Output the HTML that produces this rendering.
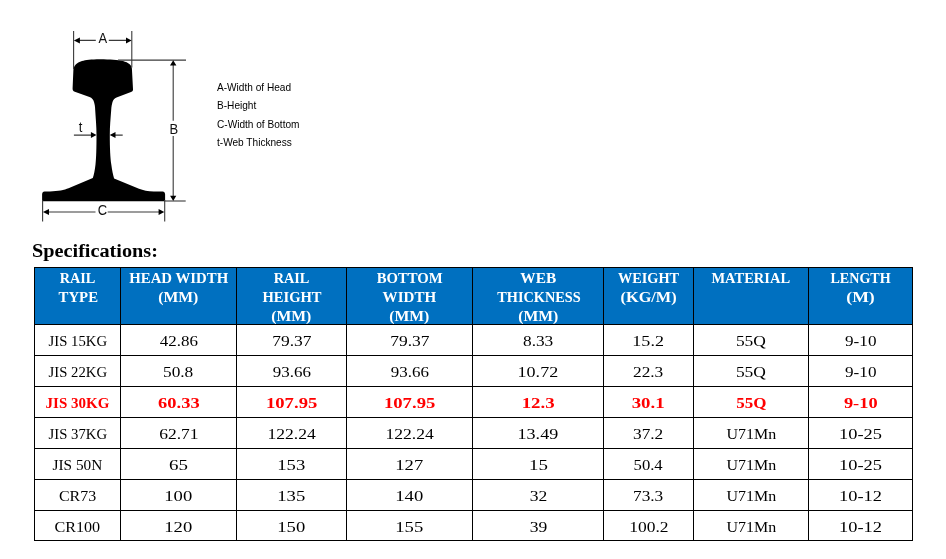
<!DOCTYPE html>
<html lang="en">
<head>
<meta charset="utf-8">
<title>Rail Specifications</title>
<style>
*{margin:0;padding:0;box-sizing:border-box}
html,body{width:946px;height:559px;background:#fff;overflow:hidden}
body{position:relative;font-family:"Liberation Serif",serif;color:#000}
#draw{position:absolute;left:0;top:0;width:946px;height:240px}
#draw text{font-family:"Liberation Sans",sans-serif;fill:#111}
.leg{position:absolute;left:217px;font-family:"Liberation Sans",sans-serif;font-size:10.1px;line-height:12px;color:#000;white-space:nowrap}
h2{position:absolute;left:32.2px;top:239.6px;transform:scaleX(1.125);transform-origin:0 0;font-size:18px;line-height:22px;font-weight:bold;white-space:nowrap}
.c{position:absolute;border:1px solid #000;text-align:center;white-space:nowrap;overflow:hidden}
.h{background:#0070c0;color:#fff;font-weight:bold;font-size:14.3px;line-height:18.7px;padding-top:1.15px}
.d{font-size:15px;line-height:29px;padding-top:2px}
.r{color:#ff0000;font-weight:bold}
.s{display:inline-block}
</style>
</head>
<body>
<svg id="draw" viewBox="0 0 946 240" width="946" height="240">
<path fill="#000" d="M100,59.200 C91,59.200 85.500,59.900 82,61 C76.500,62.800 73.700,66 73.400,69.500 L72.600,88.500 C72.500,90 73.100,91.100 74.800,91.800 L89.500,97.100 C92,98 93.300,99.800 94,102 C94.800,104.500 95.100,107 95.200,110 C95.700,118 96.500,127 96.500,135 C96.500,148 96.200,158 95.500,164.500 C94.900,170 93.900,175 92.800,178.100 L68.500,188.350 C64.500,190 58,191.400 50,191.400 L44.500,191.500 C43,191.600 42.200,192.600 42.100,194.300 L42.100,201.200 L165.100,201.200 L165.100,194.300 C165,192.600 164.200,191.500 162.600,191.400 L153.800,191.400 C148,191.400 143,190.350 139,188.700 L114.100,178.400 C113,175 112,170 111.300,164.500 C110.300,158 109.800,148 109.800,135 C109.800,127 110.600,118 111.200,110 C111.400,107 111.800,104.500 112.500,102 C113.200,99.800 114.500,98.400 116.500,97.500 L131,92.100 C132.600,91.500 133.100,90.500 133,89 L131.900,68.500 C131.600,65 128.500,62.600 123,61 C118,59.900 110,59.200 100,59.200 Z"/>
<g stroke="#3a3a3a" stroke-width="1.100" fill="none">
<path d="M73.600,31 V69 M131.800,31 V67.500"/>
<path d="M79,40.400 H95.800 M108.800,40.400 H127"/>
<path d="M118,60.100 H186"/>
<path d="M164,201 H185.700"/>
<path d="M173.200,65 V120.800 M173.200,136 V197"/>
<path d="M42.600,200 V221.400 M164.700,200 V221.400"/>
<path d="M48,212 H95.500 M107.700,212 H159"/>
<path d="M73.900,135.100 H92 M115,135.100 H122.700"/>
</g>
<g fill="#000" stroke="none">
<path d="M73.900,40.400 l6,-3 v6z M131.600,40.400 l-5.600,-3 v6z"/>
<path d="M173.200,60.300 l-3.200,5.300 h6.400z M173.200,200.900 l-3.100,-5.100 h6.200z"/>
<path d="M42.900,212 l6.100,-3.100 v6.200z M164.300,212 l-5.700,-3.100 v6.200z"/>
<path d="M96.500,135.100 l-5.600,-3 v6z M109.700,135.100 l5.800,-3 v6z"/>
</g>
<text transform="translate(102.750,42.700) scale(1,1.060)" font-size="13" text-anchor="middle">A</text>
<text transform="translate(173.800,133.500) scale(1,1.060)" font-size="13" text-anchor="middle">B</text>
<text transform="translate(102.400,215.300) scale(1,1.060)" font-size="13" text-anchor="middle">C</text>
<text transform="translate(80.600,131.700) scale(1,1.060)" font-size="13" text-anchor="middle">t</text>
</svg>
<div class="leg" style="top:81.7px">A-Width of Head</div>
<div class="leg" style="top:99.9px">B-Height</div>
<div class="leg" style="top:119px">C-Width of Bottom</div>
<div class="leg" style="top:137.2px">t-Web Thickness</div>
<h2>Specifications:</h2>
<div class="c h" style="left:34px;top:267px;width:87px;height:58px">RAIL<br><span class="s" style="transform:translateX(1.2px) scaleX(1.035)">TYPE</span></div>
<div class="c h" style="left:120px;top:267px;width:117px;height:58px"><span class="s" style="transform:scaleX(1.037)">HEAD WIDTH</span><br><span class="s" style="transform:scaleX(1.1)">(MM)</span></div>
<div class="c h" style="left:236px;top:267px;width:111px;height:58px">RAIL<br><span class="s" style="transform:scaleX(1.02)">HEIGHT</span><br><span class="s" style="transform:scaleX(1.1)">(MM)</span></div>
<div class="c h" style="left:346px;top:267px;width:127px;height:58px"><span class="s" style="transform:translateX(0.6px) scaleX(1.03)">BOTTOM</span><br><span class="s" style="transform:scaleX(1.055)">WIDTH</span><br><span class="s" style="transform:scaleX(1.1)">(MM)</span></div>
<div class="c h" style="left:472px;top:267px;width:132px;height:58px"><span class="s" style="transform:translateX(0.6px) scaleX(1.075)">WEB</span><br><span class="s" style="transform:translateX(1.0px) scaleX(1)">THICKNESS</span><br><span class="s" style="transform:scaleX(1.1)">(MM)</span></div>
<div class="c h" style="left:603px;top:267px;width:91px;height:58px">WEIGHT<br><span class="s" style="transform:scaleX(1.14)">(KG/M)</span></div>
<div class="c h" style="left:693px;top:267px;width:116px;height:58px"><span class="s" style="transform:scaleX(1.015)">MATERIAL</span></div>
<div class="c h" style="left:808px;top:267px;width:105px;height:58px"><span class="s" style="transform:scaleX(0.985)">LENGTH</span><br><span class="s" style="transform:scaleX(1.24)">(M)</span></div>
<div class="c d" style="left:34px;top:324px;width:87px;height:32px"><span class="s" style="transform:scaleX(0.98)">JIS 15KG</span></div>
<div class="c d" style="left:120px;top:324px;width:117px;height:32px"><span class="s" style="transform:scaleX(1.13)">42.86</span></div>
<div class="c d" style="left:236px;top:324px;width:111px;height:32px"><span class="s" style="transform:scaleX(1.166)">79.37</span></div>
<div class="c d" style="left:346px;top:324px;width:127px;height:32px"><span class="s" style="transform:scaleX(1.166)">79.37</span></div>
<div class="c d" style="left:472px;top:324px;width:132px;height:32px"><span class="s" style="transform:scaleX(1.154)">8.33</span></div>
<div class="c d" style="left:603px;top:324px;width:91px;height:32px"><span class="s" style="transform:scaleX(1.202)">15.2</span></div>
<div class="c d" style="left:693px;top:324px;width:116px;height:32px"><span class="s" style="transform:scaleX(1.162)">55Q</span></div>
<div class="c d" style="left:808px;top:324px;width:105px;height:32px"><span class="s" style="transform:scaleX(1.143)">9-10</span></div>
<div class="c d" style="left:34px;top:355px;width:87px;height:32px"><span class="s" style="transform:scaleX(0.98)">JIS 22KG</span></div>
<div class="c d" style="left:120px;top:355px;width:117px;height:32px"><span class="s" style="transform:scaleX(1.154)">50.8</span></div>
<div class="c d" style="left:236px;top:355px;width:111px;height:32px"><span class="s" style="transform:scaleX(1.13)">93.66</span></div>
<div class="c d" style="left:346px;top:355px;width:127px;height:32px"><span class="s" style="transform:scaleX(1.13)">93.66</span></div>
<div class="c d" style="left:472px;top:355px;width:132px;height:32px"><span class="s" style="transform:scaleX(1.203)">10.72</span></div>
<div class="c d" style="left:603px;top:355px;width:91px;height:32px"><span class="s" style="transform:scaleX(1.154)">22.3</span></div>
<div class="c d" style="left:693px;top:355px;width:116px;height:32px"><span class="s" style="transform:scaleX(1.162)">55Q</span></div>
<div class="c d" style="left:808px;top:355px;width:105px;height:32px"><span class="s" style="transform:scaleX(1.143)">9-10</span></div>
<div class="c d r" style="left:34px;top:386px;width:87px;height:32px">JIS 30KG</div>
<div class="c d r" style="left:120px;top:386px;width:117px;height:32px"><span class="s" style="transform:scaleX(1.23)">60.33</span></div>
<div class="c d r" style="left:236px;top:386px;width:111px;height:32px"><span class="s" style="transform:scaleX(1.245)">107.95</span></div>
<div class="c d r" style="left:346px;top:386px;width:127px;height:32px"><span class="s" style="transform:scaleX(1.245)">107.95</span></div>
<div class="c d r" style="left:472px;top:386px;width:132px;height:32px"><span class="s" style="transform:scaleX(1.256)">12.3</span></div>
<div class="c d r" style="left:603px;top:386px;width:91px;height:32px"><span class="s" style="transform:scaleX(1.256)">30.1</span></div>
<div class="c d r" style="left:693px;top:386px;width:116px;height:32px"><span class="s" style="transform:scaleX(1.131)">55Q</span></div>
<div class="c d r" style="left:808px;top:386px;width:105px;height:32px"><span class="s" style="transform:scaleX(1.226)">9-10</span></div>
<div class="c d" style="left:34px;top:417px;width:87px;height:32px"><span class="s" style="transform:scaleX(0.98)">JIS 37KG</span></div>
<div class="c d" style="left:120px;top:417px;width:117px;height:32px"><span class="s" style="transform:scaleX(1.166)">62.71</span></div>
<div class="c d" style="left:236px;top:417px;width:111px;height:32px"><span class="s" style="transform:scaleX(1.173)">122.24</span></div>
<div class="c d" style="left:346px;top:417px;width:127px;height:32px"><span class="s" style="transform:scaleX(1.173)">122.24</span></div>
<div class="c d" style="left:472px;top:417px;width:132px;height:32px"><span class="s" style="transform:scaleX(1.203)">13.49</span></div>
<div class="c d" style="left:603px;top:417px;width:91px;height:32px"><span class="s" style="transform:scaleX(1.154)">37.2</span></div>
<div class="c d" style="left:693px;top:417px;width:116px;height:32px"><span class="s" style="transform:scaleX(1.065)">U71Mn</span></div>
<div class="c d" style="left:808px;top:417px;width:105px;height:32px"><span class="s" style="transform:scaleX(1.228)">10-25</span></div>
<div class="c d" style="left:34px;top:448px;width:87px;height:32px"><span class="s" style="transform:scaleX(1.019)">JIS 50N</span></div>
<div class="c d" style="left:120px;top:448px;width:117px;height:32px"><span class="s" style="transform:scaleX(1.262)">65</span></div>
<div class="c d" style="left:236px;top:448px;width:111px;height:32px"><span class="s" style="transform:scaleX(1.242)">153</span></div>
<div class="c d" style="left:346px;top:448px;width:127px;height:32px"><span class="s" style="transform:scaleX(1.242)">127</span></div>
<div class="c d" style="left:472px;top:448px;width:132px;height:32px"><span class="s" style="transform:scaleX(1.262)">15</span></div>
<div class="c d" style="left:603px;top:448px;width:91px;height:32px"><span class="s" style="transform:scaleX(1.11)">50.4</span></div>
<div class="c d" style="left:693px;top:448px;width:116px;height:32px"><span class="s" style="transform:scaleX(1.065)">U71Mn</span></div>
<div class="c d" style="left:808px;top:448px;width:105px;height:32px"><span class="s" style="transform:scaleX(1.228)">10-25</span></div>
<div class="c d" style="left:34px;top:479px;width:87px;height:32px"><span class="s" style="transform:scaleX(1.064)">CR73</span></div>
<div class="c d" style="left:120px;top:479px;width:117px;height:32px"><span class="s" style="transform:scaleX(1.242)">100</span></div>
<div class="c d" style="left:236px;top:479px;width:111px;height:32px"><span class="s" style="transform:scaleX(1.242)">135</span></div>
<div class="c d" style="left:346px;top:479px;width:127px;height:32px"><span class="s" style="transform:scaleX(1.242)">140</span></div>
<div class="c d" style="left:472px;top:479px;width:132px;height:32px"><span class="s" style="transform:scaleX(1.171)">32</span></div>
<div class="c d" style="left:603px;top:479px;width:91px;height:32px"><span class="s" style="transform:scaleX(1.154)">73.3</span></div>
<div class="c d" style="left:693px;top:479px;width:116px;height:32px"><span class="s" style="transform:scaleX(1.065)">U71Mn</span></div>
<div class="c d" style="left:808px;top:479px;width:105px;height:32px"><span class="s" style="transform:scaleX(1.228)">10-12</span></div>
<div class="c d" style="left:34px;top:510px;width:87px;height:31px"><span class="s" style="transform:scaleX(1.076)">CR100</span></div>
<div class="c d" style="left:120px;top:510px;width:117px;height:31px"><span class="s" style="transform:scaleX(1.242)">120</span></div>
<div class="c d" style="left:236px;top:510px;width:111px;height:31px"><span class="s" style="transform:scaleX(1.242)">150</span></div>
<div class="c d" style="left:346px;top:510px;width:127px;height:31px"><span class="s" style="transform:scaleX(1.242)">155</span></div>
<div class="c d" style="left:472px;top:510px;width:132px;height:31px"><span class="s" style="transform:scaleX(1.171)">39</span></div>
<div class="c d" style="left:603px;top:510px;width:91px;height:31px"><span class="s" style="transform:scaleX(1.166)">100.2</span></div>
<div class="c d" style="left:693px;top:510px;width:116px;height:31px"><span class="s" style="transform:scaleX(1.065)">U71Mn</span></div>
<div class="c d" style="left:808px;top:510px;width:105px;height:31px"><span class="s" style="transform:scaleX(1.228)">10-12</span></div>
</body>
</html>
